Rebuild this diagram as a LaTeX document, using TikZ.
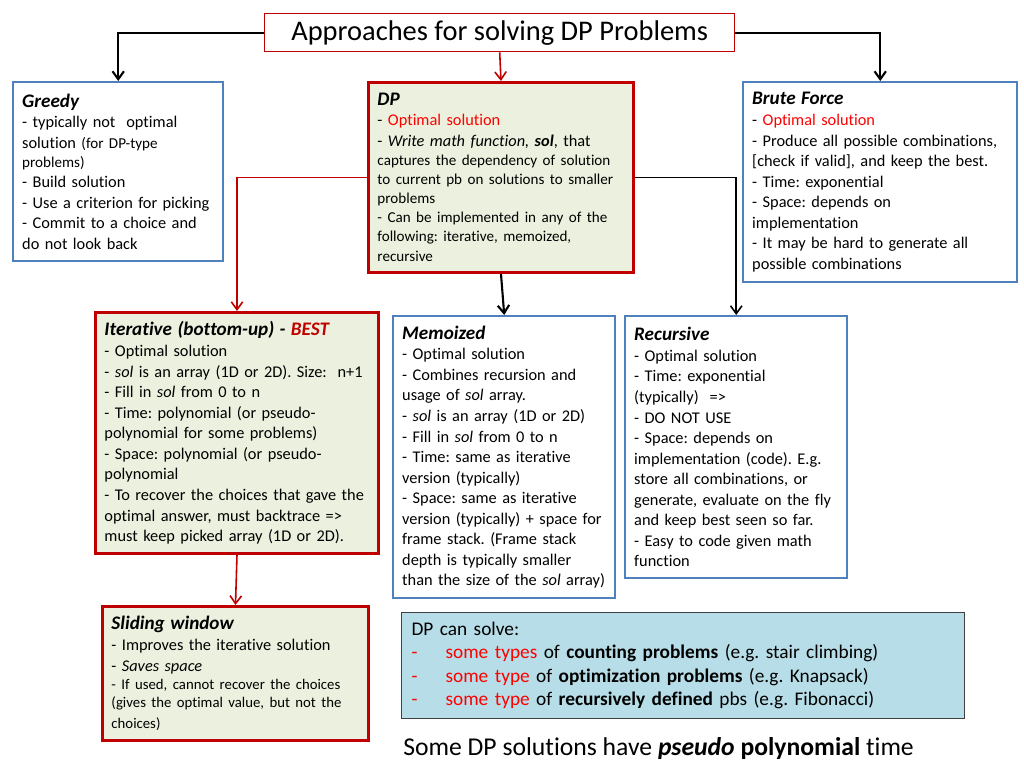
\documentclass[tikz,border=0pt]{standalone}
\usepackage{fontspec}
\setmainfont{Carlito}[Ligatures={TeX,NoCommon}]
\usepackage{tikz}
\usetikzlibrary{arrows.meta}
\usepackage{xcolor}

\definecolor{boxblue}{HTML}{4F81BD}
\definecolor{boxred}{HTML}{C00000}
\definecolor{boxfill}{HTML}{EBF1DE}
\definecolor{optred}{HTML}{FF0000}
\definecolor{solvefill}{HTML}{B7DEE8}
\definecolor{solveline}{HTML}{404040}

% one pixel of the slide
\newlength\pxu
\setlength\pxu{0.02cm}

\hyphenpenalty=10000
\exhyphenpenalty=10000
\frenchspacing

\newcommand\bodyfont{\fontsize{9.3}{11.7}\selectfont}
\newcommand\smallfont{\fontsize{8.6}{10.8}\selectfont}
\newcommand\tinyfont{\fontsize{8.4}{10.5}\selectfont}
\newcommand\boxhead[1]{{\fontsize{10.9}{12.4}\selectfont\textbf{\textit{#1}}\par}}

\tikzset{
    >={Straight Barb[length=4.5pt,width=6.5pt]},
    box/.style={draw, anchor=north west, align=left, inner xsep=9\pxu, inner ysep=0pt, font=\bodyfont},
    bluebox/.style={box, draw=boxblue, line width=1.4pt, fill=white},
    redbox/.style={box, draw=boxred, line width=1.7pt, fill=boxfill},
    link/.style={->, line width=1.2pt},
    redlink/.style={->, draw=boxred, line width=0.9pt}
}

\begin{document}
\begin{tikzpicture}[x=1\pxu, y=-1\pxu]
        \useasboundingbox (0,0) rectangle (1024,768);

        % title
        \node[draw=boxred, line width=0.8pt, fill=white, anchor=north west, minimum width=470\pxu, minimum height=38\pxu, inner sep=0pt, font=\fontsize{16.2}{19}\selectfont] (title) at (264,13) {Approaches for solving DP Problems};

        % approaches
        \node[bluebox, text width=192\pxu, minimum height=179\pxu] (greedy) at (12,81) {%
            \boxhead{Greedy}
            - typically not~ optimal\\
            solution {\smallfont (for DP-type}\\
            \smallfont problems)\\
            \bodyfont - Build solution\\
            - Use a criterion for picking\\
            - Commit to a choice and\\
            do not look back};
        \node[redbox, text width=247\pxu, minimum height=190\pxu] (dp) at (367,81) {%
            \boxhead{DP}
            - \textcolor{optred}{Optimal solution}\\
            - \textit{Write math function, \textbf{sol}}, that\\
            \smallfont captures the dependency of solution\\
            to current pb on solutions to smaller\\
            problems\\
            - Can be implemented in any of the\\
            following: iterative, memoized,\\
            recursive};
        \node[bluebox, text width=256\pxu, minimum height=200\pxu] (brute) at (742,81) {%
            \boxhead{Brute Force}
            - \textcolor{optred}{Optimal solution}\\
            - Produce all possible combinations,\\
            {}[check if valid], and keep the best.\\
            - Time: exponential\\
            - Space: depends on\\
            implementation\\
            - It may be hard to generate all\\
            possible combinations};

        % ways to implement dp
        \node[redbox, text width=265\pxu, minimum height=241\pxu] (iter) at (94,311) {%
            \boxhead{Iterative (bottom-up) - \textcolor{boxred}{BEST}}
            - Optimal solution\\
            - \textit{sol} is an array (1D or 2D). Size:~ n+1\\
            - Fill in \textit{sol} from 0 to n\\
            - Time: polynomial (or pseudo-\\
            polynomial for some problems)\\
            - Space: polynomial (or pseudo-\\
            polynomial\\
            - To recover the choices that gave the\\
            optimal answer, must backtrace =>\\
            must keep picked array (1D or 2D).};
        \node[bluebox, text width=204\pxu, minimum height=282\pxu] (memo) at (392,315) {%
            \boxhead{Memoized}
            - Optimal solution\\
            - Combines recursion and\\
            usage of \textit{sol} array.\\
            - \textit{sol} is an array (1D or 2D)\\
            - Fill in \textit{sol} from 0 to n\\
            - Time: same as iterative\\
            version (typically)\\
            - Space: same as iterative\\
            version (typically) + space for\\
            frame stack. (Frame stack\\
            depth is typically smaller\\
            than the size of the \textit{sol} array)};
        \node[bluebox, text width=204\pxu, minimum height=262\pxu] (recur) at (624,315) {%
            \boxhead{Recursive}
            - Optimal solution\\
            - Time: exponential\\
            (typically)~ =>\\
            - DO NOT USE\\
            - Space: depends on\\
            implementation (code). E.g.\\
            store all combinations, or\\
            generate, evaluate on the fly\\
            and keep best seen so far.\\
            - Easy to code given math\\
            function};
        \node[redbox, text width=248\pxu, minimum height=134\pxu] (slide) at (101,605) {%
            \boxhead{Sliding window}
            - Improves the iterative solution\\
            - \textit{Saves space}\\
            \tinyfont - If used, cannot recover the choices\\
            (gives the optimal value, but not the\\
            choices)};

        % what dp solves
        \node[box, draw=solveline, line width=0.6pt, fill=solvefill, inner xsep=10\pxu, text width=543\pxu, minimum height=106\pxu, font=\fontsize{11}{13.4}\selectfont] (cansolve) at (401,612) {%
            DP can solve:\\
            \makebox[34\pxu][l]{\textcolor{optred}{-}}\textcolor{optred}{some types} of \textbf{counting problems} (e.g. stair climbing)\\
            \makebox[34\pxu][l]{\textcolor{optred}{-}}\textcolor{optred}{some type} of \textbf{optimization problems} (e.g. Knapsack)\\
            \makebox[34\pxu][l]{\textcolor{optred}{-}}\textcolor{optred}{some type} of \textbf{recursively defined} pbs (e.g. Fibonacci)};
        \node[anchor=base west, inner sep=0pt, font=\fontsize{14.6}{17}\selectfont] (note) at (403,755) {Some DP solutions have \textbf{\textit{pseudo}} \textbf{polynomial} time};

        % arrows
        \draw[link] (title.west) -| (greedy.north);
        \draw[link] (title.east) -| (brute.north);
        \draw[redlink] (title.south) -- (dp.north);
        \draw[redlink] (dp.west) -| (iter.north);
        \draw[link] (dp.south) -- (memo.north);
        \draw[link, line width=0.9pt] (dp.east) -| (recur.north);
        \draw[redlink] (iter.south) -- (slide.north);
\end{tikzpicture}
\end{document}
